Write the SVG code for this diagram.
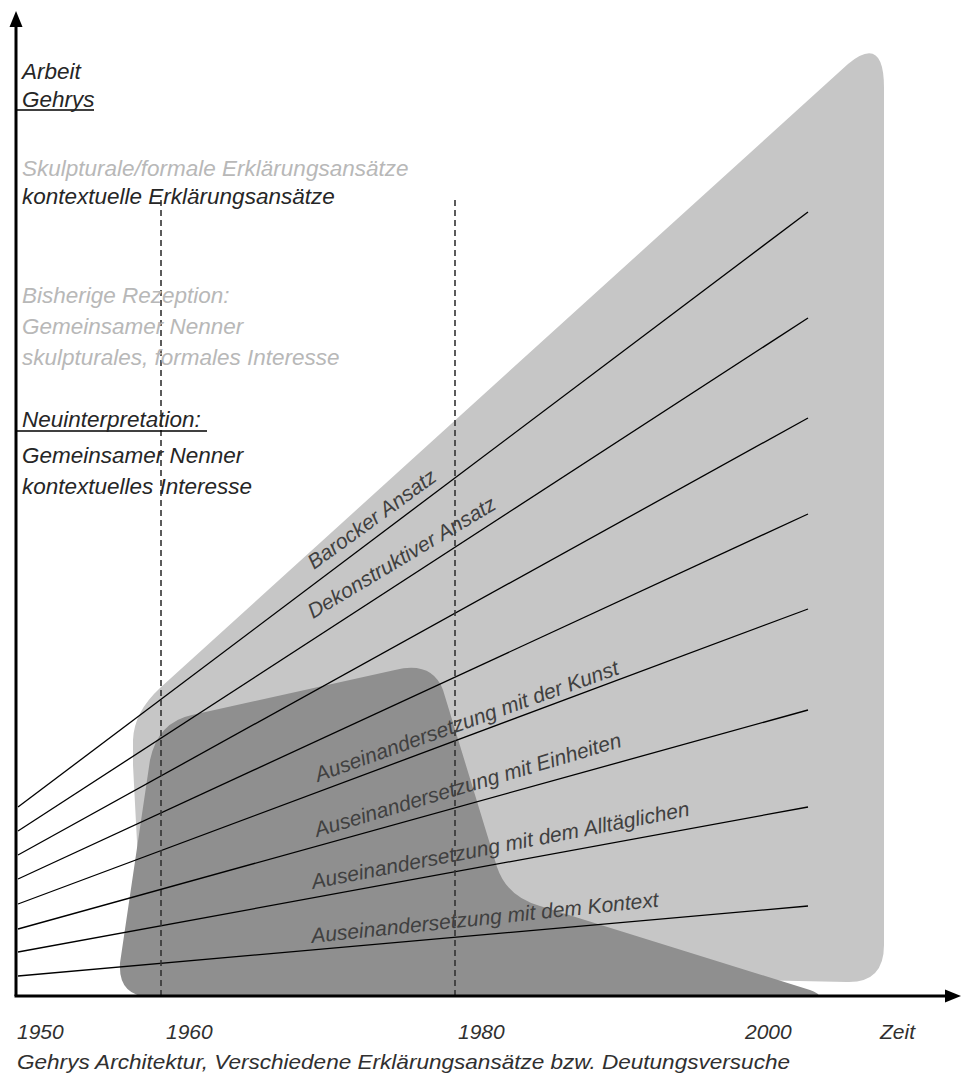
<svg xmlns="http://www.w3.org/2000/svg" width="968" height="1077" viewBox="0 0 968 1077">
<style>
text{font-family:"Liberation Sans",Arial,sans-serif;font-style:italic;}
.t{font-size:22.5px;fill:#262626;}
.g{font-size:22.5px;fill:#b8b8b8;}
.lab{font-size:21px;fill:#404040;}
.ax{font-size:21px;fill:#303030;}
.ln{stroke:#000;stroke-width:1.3;fill:none;}
.dash{stroke:#333;stroke-width:1.6;stroke-dasharray:6,4;fill:none;}
.axis{stroke:#000;stroke-width:3;fill:none;}
</style>
<rect width="968" height="1077" fill="#fff"/>
<g id="light-area">
<path d="M133,765 L133,740 Q134,712 160,688 L848,64 Q884,34 884,88 L884,945 Q884,983 847,982 L520,975 L140,900 Z" fill="#c6c6c6"/>
</g>
<g id="dark-area">
<path d="M150,760 Q158,722 192,715 L395,670 Q432,661 443,690 L497,867 Q507,897 540,906 L810,990 Q828,997 808,997 L150,997 Q118,996 120,963 Z" fill="#8f8f8f"/>
</g>
<g id="connectors">
<line class="ln" x1="18" y1="807" x2="808" y2="212"/>
<line class="ln" x1="18" y1="831" x2="808" y2="318"/>
<line class="ln" x1="18" y1="855" x2="808" y2="418"/>
<line class="ln" x1="18" y1="879" x2="808" y2="514"/>
<line class="ln" x1="18" y1="904" x2="808" y2="609"/>
<line class="ln" x1="18" y1="929" x2="808" y2="710"/>
<line class="ln" x1="18" y1="952" x2="808" y2="807"/>
<line class="ln" x1="18" y1="976" x2="808" y2="906"/>
<line class="dash" x1="161" y1="200" x2="161" y2="996"/>
<line class="dash" x1="455" y1="200" x2="455" y2="996"/>
</g>
<g id="axes">
<line class="axis" x1="16" y1="996" x2="16" y2="24"/>
<polygon points="16,11 9.5,27 22.5,27" fill="#000"/>
<line class="axis" x1="14.5" y1="996" x2="946" y2="996"/>
<polygon points="961,996 945,989.5 945,1002.5" fill="#000"/>
<line stroke="#000" stroke-width="1.3" x1="16" y1="110" x2="94" y2="110"/>
<line stroke="#000" stroke-width="1.3" x1="16" y1="431" x2="207" y2="431"/>
</g>
<g id="legend">
<text class="t" x="22" y="79">Arbeit</text>
<text class="t" x="22" y="107">Gehrys</text>
<text class="g" x="22" y="176">Skulpturale/formale Erklärungsansätze</text>
<text class="t" x="22" y="204">kontextuelle Erklärungsansätze</text>
<text class="g" x="22" y="303">Bisherige Rezeption:</text>
<text class="g" x="22" y="334">Gemeinsamer Nenner</text>
<text class="g" x="22" y="365">skulpturales, formales Interesse</text>
<text class="t" x="22" y="427">Neuinterpretation:</text>
<text class="t" x="22" y="463">Gemeinsamer Nenner</text>
<text class="t" x="22" y="494">kontextuelles Interesse</text>
</g>
<g id="line-labels">
<text class="lab" transform="translate(314,570) rotate(-36)">Barocker Ansatz</text>
<text class="lab" transform="translate(313,619) rotate(-31)">Dekonstruktiver Ansatz</text>
<text class="lab" transform="translate(318,782) rotate(-19.7)">Auseinandersetzung mit der Kunst</text>
<text class="lab" transform="translate(317,837) rotate(-16.5)">Auseinandersetzung mit Einheiten</text>
<text class="lab" transform="translate(313,889) rotate(-11)">Auseinandersetzung mit dem Alltäglichen</text>
<text class="lab" transform="translate(312,943) rotate(-6)">Auseinandersetzung mit dem Kontext</text>
</g>
<g id="x-labels">
<text class="ax" x="17" y="1039">1950</text>
<text class="ax" x="166" y="1039">1960</text>
<text class="ax" x="458" y="1039">1980</text>
<text class="ax" x="745" y="1039">2000</text>
<text class="ax" x="880" y="1039">Zeit</text>
<text class="ax" x="17" y="1069" textLength="773" lengthAdjust="spacingAndGlyphs">Gehrys Architektur, Verschiedene Erklärungsansätze bzw. Deutungsversuche</text>
</g>
</svg>
